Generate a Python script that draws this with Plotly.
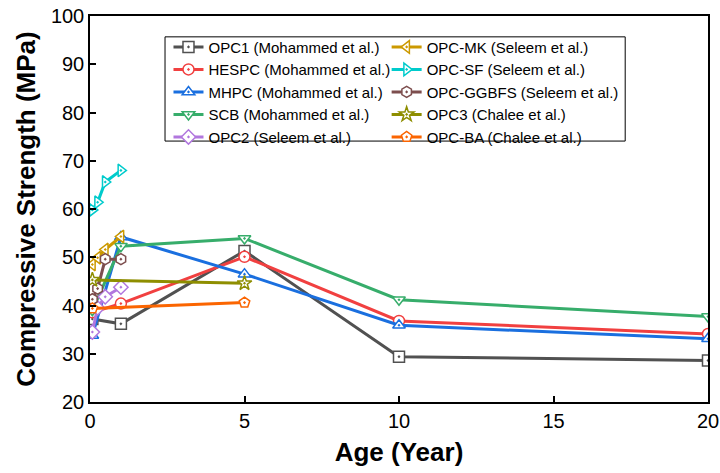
import plotly.graph_objects as go

# ---- data ----
mohammed_age = [28/365, 1, 5, 10, 20]
seleem_age = [28/365, 90/365, 180/365, 1]
chalee_age = [28/365, 5]

opc1 = [37.2, 36.2, 51.3, 29.4, 28.6]
hespc = [38.6, 40.4, 50.1, 36.8, 34.1]
mhpc = [33.8, 54.2, 46.5, 35.9, 33.1]
scb = [39.0, 52.3, 53.9, 41.2, 37.7]
opc2 = [34.5, 39.5, 41.8, 43.8]
opc_mk = [48.5, 49.9, 51.6, 54.3]
opc_sf = [59.8, 61.4, 65.6, 68.0]
opc_ggbfs = [41.3, 43.5, 49.6, 49.6]
opc3 = [45.3, 44.6]
opc_ba = [39.4, 40.6]

x_ticks = [0, 5, 10, 15, 20]
y_ticks = [20, 30, 40, 50, 60, 70, 80, 90, 100]

series = [
    ("OPC1 (Mohammed et al.)", mohammed_age, opc1, "#515151", "square-dot", "legend"),
    ("HESPC (Mohammed et al.)", mohammed_age, hespc, "#F14040", "circle-dot", "legend"),
    ("MHPC (Mohammed et al.)", mohammed_age, mhpc, "#1A6FDF", "triangle-up-dot", "legend"),
    ("SCB (Mohammed et al.)", mohammed_age, scb, "#37AD6B", "triangle-down-dot", "legend"),
    ("OPC2 (Seleem et al.)", seleem_age, opc2, "#B177DE", "diamond-dot", "legend"),
    ("OPC-MK (Seleem et al.)", seleem_age, opc_mk, "#CC9900", "triangle-left-dot", "legend2"),
    ("OPC-SF (Seleem et al.)", seleem_age, opc_sf, "#00CBCC", "triangle-right-dot", "legend2"),
    ("OPC-GGBFS (Seleem et al.)", seleem_age, opc_ggbfs, "#7D4E4E", "hexagon-dot", "legend2"),
    ("OPC3 (Chalee et al.)", chalee_age, opc3, "#8E8E00", "star-dot", "legend2"),
    ("OPC-BA (Chalee et al.)", chalee_age, opc_ba, "#FB6501", "pentagon-dot", "legend2"),
]

fig = go.Figure()
for name, xs, ys, col, sym, leg in series:
    fig.add_trace(go.Scatter(
        x=xs, y=ys, name=name, mode="lines+markers",
        line=dict(color=col, width=3),
        marker=dict(symbol=sym, size=11, color="white",
                    line=dict(color=col, width=1.5)),
        legend=leg,
    ))

font_family = "Liberation Sans, Arial, sans-serif"
leg_font = dict(size=15, family=font_family)

fig.update_layout(
    width=720, height=473,
    margin=dict(l=90, r=12, t=16, b=71),
    paper_bgcolor="white", plot_bgcolor="white",
    font=dict(family=font_family, color="black"),
    showlegend=True,
    legend=dict(x=0.127, y=0.962, xanchor="left", yanchor="top",
                bgcolor="rgba(0,0,0,0)", borderwidth=0,
                font=leg_font, tracegroupgap=0),
    legend2=dict(x=0.48, y=0.962, xanchor="left", yanchor="top",
                 bgcolor="rgba(0,0,0,0)", borderwidth=0,
                 font=leg_font, tracegroupgap=0),
    shapes=[dict(type="rect", xref="paper", yref="paper",
                 x0=0.1214, x1=0.866, y0=0.676, y1=0.946,
                 line=dict(color="black", width=1), fillcolor="rgba(0,0,0,0)",
                 layer="above")],
    xaxis=dict(range=[0, 20], tickvals=x_ticks, ticktext=[str(v) for v in x_ticks],
               ticks="inside", ticklen=6, tickwidth=1.5, tickcolor="black",
               showline=True, linecolor="black", linewidth=1.5, mirror=True,
               showgrid=False, zeroline=False, automargin=False,
               tickfont=dict(size=20, family=font_family),
               title=dict(text="<b>Age (Year)</b>", font=dict(size=26, family=font_family), standoff=12)),
    yaxis=dict(range=[20, 100], tickvals=y_ticks, ticktext=[str(v) for v in y_ticks],
               ticks="inside", ticklen=6, tickwidth=1.5, tickcolor="black",
               showline=True, linecolor="black", linewidth=1.5, mirror=True,
               showgrid=False, zeroline=False, automargin=False,
               tickfont=dict(size=20, family=font_family),
               title=dict(text="<b>Compressive Strength (MPa)</b>", font=dict(size=26, family=font_family), standoff=8)),
)

fig.write_html("out.html", config={"displayModeBar": False},
               post_script="document.body.style.margin='0';")
